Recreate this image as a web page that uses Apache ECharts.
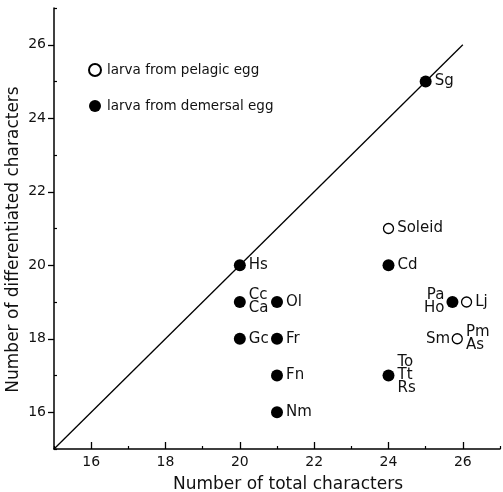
<!DOCTYPE html>
<html>
<head>
<meta charset="utf-8">
<script src="https://cdn.jsdelivr.net/npm/echarts@6/dist/echarts.min.js"></script>
<style>
  html, body { margin: 0; padding: 0; background: #fff; }
  #main { width: 503px; height: 492px; }
</style>
</head>
<body>
<div id="main"></div>
<script>
// data
var pelagicX = [24, 26.1, 25.85];
var pelagicY = [21, 19, 18];
var pelagicRight = ['Soleid', 'Lj', 'Pm\nAs'];
var pelagicLeft = ['', '', 'Sm'];

var demersalX = [25, 20, 20, 21, 20, 21, 21, 21, 24, 24, 25.72];
var demersalY = [25, 20, 19, 19, 18, 18, 17, 16, 20, 17, 19];
var demersalRight = ['Sg', 'Hs', 'Cc\nCa', 'Ol', 'Gc', 'Fr', 'Fn', 'Nm', 'Cd', 'To\nTt\nRs', ''];
var demersalLeft = ['', '', '', '', '', '', '', '', '', '', 'Pa\nHo'];

var equalLine = [[15, 15], [26, 26]];

var majorTicks = [16, 18, 20, 22, 24, 26];
var minorTicks = [15, 17, 19, 21, 23, 25, 27];

var font = 'DejaVu Sans';

function pts(xs, ys) {
    return xs.map(function (x, i) { return [x, ys[i]]; });
}

var myChart = echarts.init(document.getElementById('main'));

var labelStyle = {
    show: true,
    color: '#111',
    fontFamily: font,
    fontSize: 15,
    lineHeight: 13
};

// extra invisible series that only carries the left hand labels
function labelSeries(xs, ys, names, dist) {
    return {
        type: 'scatter',
        symbolSize: 0.1,
        itemStyle: { color: '#000', opacity: 1 },
        silent: true,
        z: 4,
        data: pts(xs, ys).map(function (p, i) { return { value: p, name: names[i] }; }),
        label: Object.assign({}, labelStyle, {
            position: 'left',
            distance: dist,
            color: '#111',
            formatter: function (p) { return p.name; }
        })
    };
}

var option = {
    animation: false,
    backgroundColor: '#fff',
    grid: { left: 54, right: 3, top: 8, bottom: 43, outerBoundsMode: 'none', containLabel: false },
    legend: {
        data: ['larva from pelagic egg', 'larva from demersal egg'],
        orient: 'vertical',
        left: 88,
        top: 63,
        padding: 0,
        itemWidth: 14,
        itemHeight: 12,
        itemGap: 22,
        textStyle: { fontFamily: font, fontSize: 13.5, color: '#111' }
    },
    xAxis: [
        {
            type: 'value', min: 15, max: 27, interval: 1,
            name: 'Number of total characters',
            nameLocation: 'middle',
            nameGap: 27,
            nameMoveOverlap: false,
            nameTextStyle: { fontFamily: font, fontSize: 17, color: '#111', padding: [0, 0, 0, 22] },
            axisLine: { lineStyle: { color: '#000', width: 1.5 } },
            axisTick: { inside: true, length: 7, customValues: majorTicks, lineStyle: { color: '#000', width: 1.3 } },
            axisLabel: { customValues: majorTicks, fontFamily: font, fontSize: 14, color: '#111', margin: 6 },
            splitLine: { show: false }
        },
        {
            type: 'value', min: 15, max: 27, interval: 1, position: 'bottom',
            axisLine: { show: false },
            axisTick: { inside: true, length: 3, customValues: minorTicks, lineStyle: { color: '#000', width: 1.2 } },
            axisLabel: { show: false },
            splitLine: { show: false }
        }
    ],
    yAxis: [
        {
            type: 'value', min: 15, max: 27, interval: 1,
            name: 'Number of differentiated characters',
            nameLocation: 'middle',
            nameGap: 32,
            nameMoveOverlap: false,
            nameTextStyle: { fontFamily: font, fontSize: 17, color: '#111', padding: [0, 22, 0, 0] },
            axisLine: { lineStyle: { color: '#000', width: 1.5 } },
            axisTick: { inside: false, length: 6, customValues: majorTicks, lineStyle: { color: '#000', width: 1.3 } },
            axisLabel: { customValues: majorTicks, fontFamily: font, fontSize: 14, color: '#111', margin: 8 },
            splitLine: { show: false }
        },
        {
            type: 'value', min: 15, max: 27, interval: 1, position: 'left',
            axisLine: { show: false },
            axisTick: { inside: true, length: 3, customValues: minorTicks, lineStyle: { color: '#000', width: 1.2 } },
            axisLabel: { show: false },
            splitLine: { show: false }
        }
    ],
    series: [
        {
            name: 'equal',
            type: 'line',
            data: equalLine,
            symbol: 'none',
            silent: true,
            lineStyle: { color: '#000', width: 1.3 },
            z: 1
        },
        {
            name: 'larva from pelagic egg',
            type: 'scatter',
            symbol: 'circle',
            symbolSize: 10,
            itemStyle: { color: '#fff', borderColor: '#000', borderWidth: 1.3, opacity: 1 },
            data: pts(pelagicX, pelagicY).map(function (p, i) { return { value: p, name: pelagicRight[i] }; }),
            label: Object.assign({}, labelStyle, {
                position: 'right', distance: 3,
                formatter: function (p) { return p.name; }
            }),
            z: 3
        },
        {
            name: 'larva from demersal egg',
            type: 'scatter',
            symbol: 'circle',
            symbolSize: 12,
            itemStyle: { color: '#000', opacity: 1 },
            data: pts(demersalX, demersalY).map(function (p, i) { return { value: p, name: demersalRight[i] }; }),
            label: Object.assign({}, labelStyle, {
                position: 'right', distance: 3,
                formatter: function (p) { return p.name; }
            }),
            z: 3
        },
        labelSeries(pelagicX, pelagicY, pelagicLeft, 7),
        labelSeries(demersalX, demersalY, demersalLeft, 8)
    ]
};

myChart.setOption(option);
</script>
</body>
</html>
